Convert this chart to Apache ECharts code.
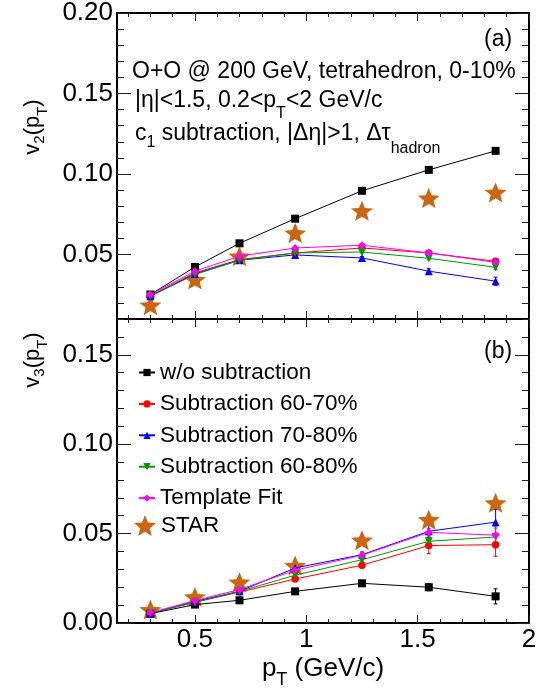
<!DOCTYPE html>
<html>
<head>
<meta charset="utf-8">
<script src="https://cdn.jsdelivr.net/npm/echarts@6/dist/echarts.min.js"></script>
<style>
  html, body { margin: 0; padding: 0; background: #fff; }
  #chart { width: 556px; height: 688px; }
</style>
</head>
<body>
<div id="chart"></div>
<script>
// pT bin centres (GeV/c)
var ptValues = [0.3, 0.5, 0.7, 0.95, 1.25, 1.55, 1.85];

// panel (a) : v2(pT)
var v2NoSub    = [0.0252, 0.0423, 0.0570, 0.0723, 0.0896, 0.1026, 0.1144];
var v2Sub6070  = [0.0246, 0.0386, 0.0469, 0.0510, 0.0541, 0.0510, 0.0458];
var v2Sub7080  = [0.0242, 0.0380, 0.0465, 0.0498, 0.0479, 0.0397, 0.0335];
var v2Sub6080  = [0.0242, 0.0376, 0.0465, 0.0510, 0.0516, 0.0477, 0.0421];
var v2Template = [0.0252, 0.0397, 0.0490, 0.0541, 0.0558, 0.0510, 0.0452];
var v2Star     = [0.0186, 0.0345, 0.0490, 0.0634, 0.0772, 0.0851, 0.0886];

var v2NoSubErr    = [0.0004, 0.0004, 0.0005, 0.0005, 0.0006, 0.0007, 0.0008];
var v2Sub6070Err  = [0.0004, 0.0004, 0.0005, 0.0005, 0.0006, 0.0009, 0.0015];
var v2Sub7080Err  = [0.0004, 0.0004, 0.0005, 0.0006, 0.0008, 0.0015, 0.0025];
var v2Sub6080Err  = [0.0004, 0.0004, 0.0005, 0.0005, 0.0006, 0.0010, 0.0015];
var v2TemplateErr = [0.0004, 0.0004, 0.0005, 0.0005, 0.0006, 0.0008, 0.0012];

// panel (b) : v3(pT)
var v3NoSub    = [0.0052, 0.0103, 0.0127, 0.0177, 0.0222, 0.0200, 0.0149];
var v3Sub6070  = [0.0056, 0.0116, 0.0173, 0.0246, 0.0323, 0.0433, 0.0438];
var v3Sub7080  = [0.0052, 0.0121, 0.0177, 0.0308, 0.0382, 0.0513, 0.0564];
var v3Sub6080  = [0.0054, 0.0116, 0.0177, 0.0267, 0.0354, 0.0457, 0.0481];
var v3Template = [0.0058, 0.0125, 0.0187, 0.0295, 0.0379, 0.0507, 0.0491];
var v3Star     = [0.0075, 0.0146, 0.0228, 0.0321, 0.0463, 0.0578, 0.0672];

var v3NoSubErr    = [0.0005, 0.0006, 0.0008, 0.0010, 0.0012, 0.0020, 0.0042];
var v3Sub6070Err  = [0.0005, 0.0006, 0.0008, 0.0010, 0.0015, 0.0045, 0.0065];
var v3Sub7080Err  = [0.0005, 0.0006, 0.0008, 0.0010, 0.0015, 0.0040, 0.0070];
var v3Sub6080Err  = [0.0005, 0.0006, 0.0008, 0.0010, 0.0012, 0.0030, 0.0060];
var v3TemplateErr = [0.0005, 0.0006, 0.0008, 0.0010, 0.0012, 0.0020, 0.0040];

// ticks
var xMajorTicks = [0.5, 1, 1.5, 2];
var xMinorTicks = [0.2, 0.3, 0.4, 0.5, 0.6, 0.7, 0.8, 0.9, 1.0, 1.1, 1.2, 1.3, 1.4, 1.5, 1.6, 1.7, 1.8, 1.9, 2.0];
var v2MajorTicks = [0.05, 0.10, 0.15, 0.20];
var v2MinorTicks = [0.01, 0.02, 0.03, 0.04, 0.05, 0.06, 0.07, 0.08, 0.09, 0.10, 0.11, 0.12, 0.13, 0.14, 0.15, 0.16, 0.17, 0.18, 0.19, 0.20];
var v3MajorTicks = [0.00, 0.05, 0.10, 0.15];
var v3MinorTicks = [0.00, 0.01, 0.02, 0.03, 0.04, 0.05, 0.06, 0.07, 0.08, 0.09, 0.10, 0.11, 0.12, 0.13, 0.14, 0.15, 0.16];

var seriesNames = ['w/o subtraction', 'Subtraction 60-70%', 'Subtraction 70-80%', 'Subtraction 60-80%', 'Template Fit', 'STAR'];

var FONT = '"Liberation Sans", Arial, Helvetica, sans-serif';
var starPath = 'path://M50,0 L62.93,32.2 L97.55,34.55 L70.92,56.8 L79.39,90.45 L50,72 L20.61,90.45 L29.08,56.8 L2.45,34.55 L37.07,32.2 Z';
var starColor = '#cc6611';

var styles = [
  { color: '#000000', symbol: 'rect', size: 8, rotate: 0 },
  { color: '#ff0000', symbol: 'circle', size: 7.5, rotate: 0 },
  { color: '#0000ff', symbol: 'triangle', size: 8, rotate: 0 },
  { color: '#009a00', symbol: 'triangle', size: 8, rotate: 180 },
  { color: '#ff00ff', symbol: 'diamond', size: 8, rotate: 0 }
];

function axis(grid, pos, min, max, ticks, len, line, labels) {
  return {
    type: 'value', gridIndex: grid, position: pos, min: min, max: max,
    splitLine: { show: false },
    axisLine: { show: line, onZero: false, lineStyle: { color: '#000', width: 2 } },
    axisTick: { show: true, inside: true, length: len, customValues: ticks, lineStyle: { color: '#222', width: 1 } },
    axisLabel: labels ? {
      show: true, customValues: labels, margin: 4, fontSize: 26, fontFamily: FONT, color: '#000',
      formatter: pos === 'left' ? function (v) { return v.toFixed(2); } : function (v) { return String(v); }
    } : { show: false }
  };
}

var xAxes = [], yAxes = [];
[[0, 0.01, 0.2, v2MajorTicks, v2MinorTicks], [1, 0, 0.17, v3MajorTicks, v3MinorTicks]].forEach(function (p) {
  var g = p[0];
  xAxes.push(axis(g, 'bottom', 0.15, 2, xMajorTicks, 8, true, g === 1 ? xMajorTicks : null));
  xAxes.push(axis(g, 'bottom', 0.15, 2, xMinorTicks, 4, false, null));
  xAxes.push(axis(g, 'top', 0.15, 2, xMajorTicks, 8, true, null));
  xAxes.push(axis(g, 'top', 0.15, 2, xMinorTicks, 4, false, null));
  yAxes.push(axis(g, 'left', p[1], p[2], p[3], 14, true, p[3]));
  yAxes.push(axis(g, 'left', p[1], p[2], p[4], 7, false, null));
  yAxes.push(axis(g, 'right', p[1], p[2], p[3], 14, true, null));
  yAxes.push(axis(g, 'right', p[1], p[2], p[4], 7, false, null));
});

function pairs(ys) {
  return ptValues.map(function (x, i) { return [x, ys[i]]; });
}

function errorBars(grid, ys, errs, color) {
  return {
    type: 'custom', xAxisIndex: grid * 4, yAxisIndex: grid * 4, silent: true,
    data: ptValues.map(function (x, i) { return [x, ys[i] - errs[i], ys[i] + errs[i]]; }),
    renderItem: function (params, api) {
      var lo = api.coord([api.value(0), api.value(1)]);
      var hi = api.coord([api.value(0), api.value(2)]);
      var st = { stroke: color, lineWidth: 1 };
      return {
        type: 'group', children: [
          { type: 'line', shape: { x1: lo[0], y1: lo[1], x2: hi[0], y2: hi[1] }, style: st },
          { type: 'line', shape: { x1: lo[0] - 2, y1: lo[1], x2: lo[0] + 2, y2: lo[1] }, style: st },
          { type: 'line', shape: { x1: hi[0] - 2, y1: hi[1], x2: hi[0] + 2, y2: hi[1] }, style: st }
        ]
      };
    }
  };
}

var series = [];
[
  [0, [v2NoSub, v2Sub6070, v2Sub7080, v2Sub6080, v2Template], [v2NoSubErr, v2Sub6070Err, v2Sub7080Err, v2Sub6080Err, v2TemplateErr], v2Star],
  [1, [v3NoSub, v3Sub6070, v3Sub7080, v3Sub6080, v3Template], [v3NoSubErr, v3Sub6070Err, v3Sub7080Err, v3Sub6080Err, v3TemplateErr], v3Star]
].forEach(function (p) {
  var g = p[0];
  p[1].forEach(function (ys, k) {
    var s = styles[k];
    series.push(errorBars(g, ys, p[2][k], s.color));
    series.push({
      name: seriesNames[k], type: 'line', xAxisIndex: g * 4, yAxisIndex: g * 4,
      data: pairs(ys), symbol: s.symbol, symbolSize: s.size, symbolRotate: s.rotate,
      showAllSymbol: true, animation: false,
      lineStyle: { color: s.color, width: 1 }, itemStyle: { color: s.color }
    });
  });
  series.push({
    name: seriesNames[5], type: 'scatter', xAxisIndex: g * 4, yAxisIndex: g * 4,
    data: pairs(p[3]), symbol: starPath, symbolSize: [22, 21], symbolKeepAspect: true,
    itemStyle: { color: starColor, opacity: 1 }, animation: false
  });
});

// rich text styles for labels with subscripts (s and t drop by different amounts)
function rich(size, sub, drop, drop2) {
  return {
    n: { fontSize: size, fontFamily: FONT, color: '#000', lineHeight: 40 },
    s: { fontSize: sub, fontFamily: FONT, color: '#000', lineHeight: 40, padding: [drop, 0, 0, 0] },
    t: { fontSize: sub, fontFamily: FONT, color: '#000', lineHeight: 40, padding: [drop2 || drop, 0, 0, 0] }
  };
}

function label(x, y, text, size, sub, drop, rot, align, drop2) {
  return {
    type: 'text', x: x, y: y, rotation: rot || 0,
    style: { text: text, rich: rich(size, sub, drop, drop2), align: align || 'left', verticalAlign: 'middle' }
  };
}

var chart = echarts.init(document.getElementById('chart'), null, { renderer: 'canvas' });
chart.setOption({
  backgroundColor: '#fff',
  animation: false,
  grid: [
    { left: 117, top: 13, width: 412, height: 306, outerBoundsMode: 'none' },
    { left: 117, top: 319, width: 412, height: 304, outerBoundsMode: 'none' }
  ],
  xAxis: xAxes,
  yAxis: yAxes,
  legend: [
    {
      data: seriesNames.slice(0, 5), orient: 'vertical', left: 138, top: 361, padding: 0,
      itemWidth: 16, itemHeight: 9, itemGap: 8.4, selectedMode: false,
      textStyle: { fontSize: 22.5, fontFamily: FONT, color: '#000' }
    },
    {
      data: [seriesNames[5]], orient: 'vertical', left: 134, top: 514, padding: 0,
      itemWidth: 22, itemHeight: 22, selectedMode: false,
      textStyle: { fontSize: 22.5, fontFamily: FONT, color: '#000' }
    }
  ],
  graphic: [
    label(484, 40, '{n|(a)}', 23, 15, 0),
    label(484, 352, '{n|(b)}', 23, 15, 0),
    label(132, 72, '{n|O+O @ 200 GeV, tetrahedron, 0-10%}', 23, 15, 0),
    label(135, 101, '{n||η|<1.5, 0.2<p}{s|T}{n|<2 GeV/c}', 23, 16, 26),
    label(135, 134, '{n|c}{s|1}{n| subtraction, |Δη|>1, Δτ}{t|hadron}', 23, 16, 17, 0, 'left', 30),
    label(33, 127, '{n|v}{s|2}{n|(p}{t|T}{n|)}', 22, 15, 14, Math.PI / 2, 'center', 20),
    label(33, 360, '{n|v}{s|3}{n|(p}{t|T}{n|)}', 22, 15, 14, Math.PI / 2, 'center', 20),
    label(323, 669, '{n|p}{s|T}{n| (GeV/c)}', 26, 18, 22, 0, 'center')
  ],
  series: series
});
</script>
</body>
</html>
